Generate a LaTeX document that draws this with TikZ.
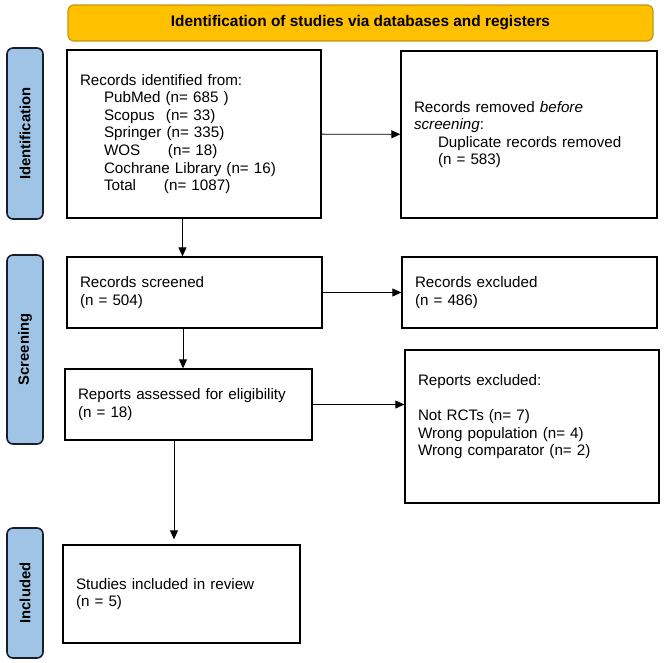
\documentclass[tikz,border=0pt]{standalone}
\usepackage{fontspec}
\setmainfont{Liberation Sans}
\usetikzlibrary{arrows.meta}
\definecolor{bannerfill}{RGB}{255,192,0}
\definecolor{bannerline}{RGB}{196,150,20}
\definecolor{stagefill}{RGB}{160,196,230}
\definecolor{stageline}{RGB}{25,30,45}

\begin{document}
\begin{tikzpicture}[x=1pt, y=-1pt,
banner/.style={draw=bannerline, fill=bannerfill, line width=1.2pt, rounded corners=6pt, minimum width=585pt, minimum height=36pt, font=\fontsize{15.4}{18}\selectfont\bfseries},
stage/.style={draw=stageline, fill=stagefill, line width=1.6pt, rounded corners=6pt, rotate=90, minimum height=36pt, font=\fontsize{14.8}{17.6}\selectfont\bfseries},
flow/.style={draw=black, line width=1.3pt, align=left, inner xsep=13pt, font=\fontsize{15.2}{17.6}\selectfont},
arr/.style={-{Triangle[length=9pt,width=8pt]}, line width=0.9pt},
]
\useasboundingbox (0,0) rectangle (669,662);

\node[banner] (title) at (360.5,23) {Identification of studies via databases and registers};

\node[stage, minimum width=171pt] (identification) at (25,133.5) {Identification};
\node[stage, minimum width=189pt] (screening) at (25,349.5) {Screening};
\node[stage, minimum width=130pt] (included) at (25,593) {Included};

\node[flow, text width=228pt, minimum height=168pt] (identified) at (194,134) {Records identified from:\\
\hspace*{24pt}PubMed (n= 685 )\\
\hspace*{24pt}\makebox[62pt][l]{Scopus}(n= 33)\\
\hspace*{24pt}Springer (n= 335)\\
\hspace*{24pt}\makebox[64pt][l]{WOS}(n= 18)\\
\hspace*{24pt}Cochrane Library (n= 16)\\
\hspace*{24pt}\makebox[60pt][l]{Total}(n= 1087)};
\node[flow, text width=230pt, minimum height=167pt] (removed) at (529,134.5) {Records removed \textit{before}\\
\textit{screening}:\\
\hspace*{24pt}Duplicate records removed\\
\hspace*{24pt}(n = 583)};

\node[flow, text width=229pt, minimum height=71pt] (screened) at (194.5,292.5) {Records screened\\(n = 504)};
\node[flow, text width=229pt, minimum height=71pt] (excluded) at (529.5,292.5) {Records excluded\\(n = 486)};

\node[flow, text width=221pt, minimum height=71pt] (assessed) at (188.5,404.5) {Reports assessed for eligibility\\(n = 18)};
\node[flow, text width=228pt, minimum height=153pt] (reportsout) at (532,426.5) {Reports excluded:\\
\strut\\
Not RCTs (n= 7)\\
Wrong population (n= 4)\\
Wrong comparator (n= 2)\\
\strut};

\node[flow, text width=211pt, minimum height=98pt] (review) at (181.5,594) {Studies included in review\\(n = 5)};

\draw[arr] (identified) -- (removed);
\draw[arr] (screened) -- (excluded);
\draw[arr] (assessed.east) -- (assessed.east -| reportsout.west);
\draw[arr] ([xshift=-11.5pt]identified.south) -- ([xshift=-11.5pt]identified.south |- screened.north);
\draw[arr] ([xshift=-11.5pt]screened.south) -- ([xshift=-11.5pt]screened.south |- assessed.north);
\draw[arr, shorten >=5pt] ([xshift=-14.5pt]assessed.south) -- ([xshift=-14.5pt]assessed.south |- review.north);

\end{tikzpicture}
\end{document}
